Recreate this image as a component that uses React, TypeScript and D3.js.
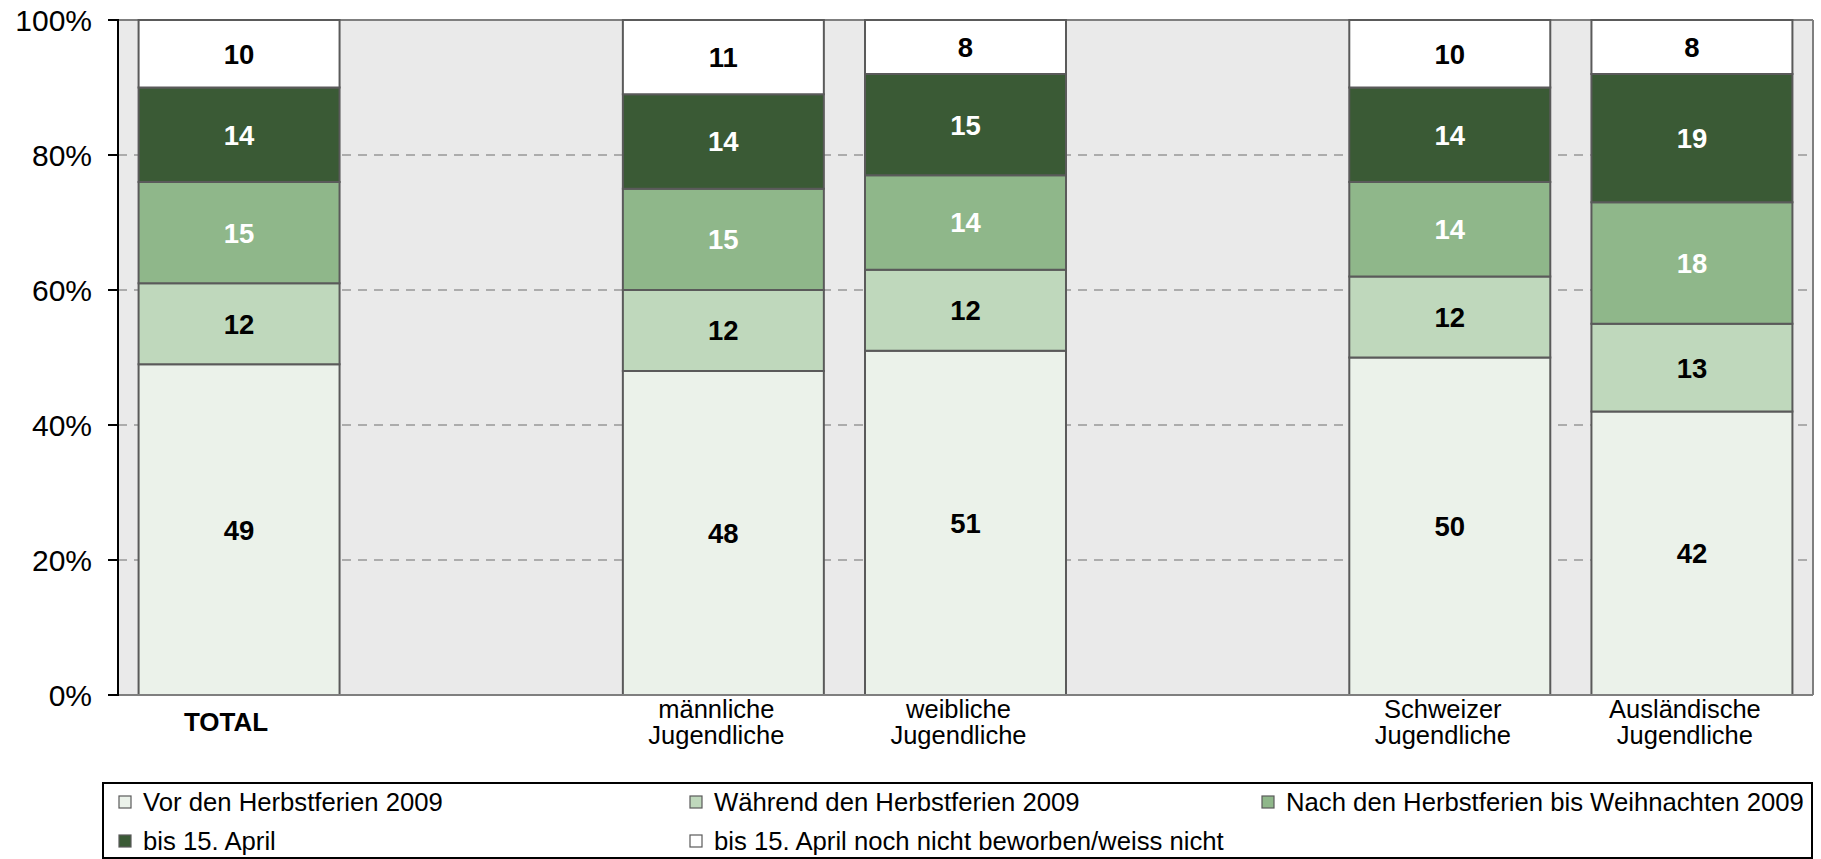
import React from "react";
import * as d3 from "d3";

const categories = ["TOTAL", "gap1", "männliche", "weibliche", "gap2", "Schweizer", "Ausländische"];
const categoryLines: string[][] = [
  ["TOTAL"],
  [],
  ["männliche", "Jugendliche"],
  ["weibliche", "Jugendliche"],
  [],
  ["Schweizer", "Jugendliche"],
  ["Ausländische", "Jugendliche"],
];
const barCategories = ["TOTAL", "männliche", "weibliche", "Schweizer", "Ausländische"];

const seriesNames = [
  "Vor den Herbstferien 2009",
  "Während den Herbstferien 2009",
  "Nach den Herbstferien bis Weihnachten 2009",
  "bis 15. April",
  "bis 15. April noch nicht beworben/weiss nicht",
];
const vorHerbst = [49, 48, 51, 50, 42];
const waehrendHerbst = [12, 12, 12, 12, 13];
const nachHerbst = [15, 15, 14, 14, 18];
const bisApril = [14, 14, 15, 14, 19];
const nochNicht = [10, 11, 8, 10, 8];
const seriesValues = [vorHerbst, waehrendHerbst, nachHerbst, bisApril, nochNicht];

const seriesColors = ["#EBF2EA", "#BFD8BC", "#8FB78A", "#3A5A35", "#FFFFFF"];
const labelColors = ["#000", "#000", "#fff", "#fff", "#000"];

const yTicks = [0, 20, 40, 60, 80, 100];

const FONT = "'Liberation Sans', Arial, sans-serif";

export default function App() {
  const W = 1821, H = 859;
  const plotLeft = 118, plotRight = 1813, plotTop = 20, plotBottom = 695;

  const x = d3.scaleBand<string>().domain(categories).range([plotLeft, plotRight]).paddingInner(0.17).paddingOuter(0.085);
  const y = d3.scaleLinear().domain([0, 100]).range([plotBottom, plotTop]);

  const rows = barCategories.map((c, i) => {
    const r: any = { cat: c };
    seriesNames.forEach((s, k) => (r[s] = seriesValues[k][i]));
    return r;
  });
  const stacked = d3.stack<any>().keys(seriesNames)(rows);

  const legendCols = [119, 690, 1262];
  const legendRows = [802, 841];

  return (
    <svg width={W} height={H} style={{ position: "absolute", left: 0, top: 0, background: "#fff" }} fontFamily={FONT}>
      <rect x={plotLeft} y={plotTop} width={plotRight - plotLeft} height={plotBottom - plotTop} fill="#EAEAEA" />
      <line x1={plotLeft} x2={plotRight} y1={plotTop} y2={plotTop} stroke="#7f7f7f" strokeWidth={2} />
      <line x1={plotRight} x2={plotRight} y1={plotTop} y2={plotBottom} stroke="#7f7f7f" strokeWidth={2} />
      {yTicks.filter((t) => t > 0 && t < 100).map((t) => (
        <line key={t} x1={plotLeft} x2={plotRight} y1={y(t)} y2={y(t)} stroke="#6f6f6f" strokeWidth={1} strokeDasharray="9,7" />
      ))}
      {stacked.map((layer, k) => (
        <g key={k}>
          {layer.map((d, i) => {
            const cx = x(barCategories[i])!;
            return (
              <rect key={i} x={cx} y={y(d[1])} width={x.bandwidth()} height={y(d[0]) - y(d[1])}
                fill={seriesColors[k]} stroke="#5a5a5a" strokeWidth={2} />
            );
          })}
        </g>
      ))}
      {stacked.map((layer, k) => (
        <g key={"l" + k}>
          {layer.map((d, i) => (
            <text key={i} x={x(barCategories[i])! + x.bandwidth() / 2} y={y((d[0] + d[1]) / 2)} dy="0.36em"
              textAnchor="middle" fontWeight="bold" fontSize={27.5} fill={labelColors[k]}>
              {seriesValues[k][i]}
            </text>
          ))}
        </g>
      ))}
      <line x1={plotLeft} x2={plotRight} y1={plotBottom} y2={plotBottom} stroke="#7f7f7f" strokeWidth={2} />
      <line x1={plotLeft} x2={plotLeft} y1={plotTop - 1} y2={plotBottom + 1} stroke="#000" strokeWidth={2} />
      {yTicks.map((t) => (
        <g key={t}>
          <line x1={108} x2={plotLeft} y1={y(t)} y2={y(t)} stroke="#000" strokeWidth={2} />
          <text x={92} y={y(t)} dy="0.36em" textAnchor="end" fontSize={30} fill="#000">{t + "%"}</text>
        </g>
      ))}
      {categories.map((c, i) => {
        const lines = categoryLines[i];
        if (!lines.length) return null;
        const cx = x(c)! + x.bandwidth() / 2 - (lines.length === 1 ? 13 : 7);
        if (lines.length === 1)
          return (
            <text key={c} x={cx} y={722} dy="0.36em" textAnchor="middle" fontSize={26} fontWeight="bold">{lines[0]}</text>
          );
        return (
          <text key={c} textAnchor="middle" fontSize={25.5}>
            {lines.map((l, j) => (
              <tspan key={j} x={cx} y={709 + j * 26} dy="0.36em">{l}</tspan>
            ))}
          </text>
        );
      })}
      <rect x={103} y={783} width={1709} height={75} fill="none" stroke="#000" strokeWidth={2} />
      {seriesNames.map((s, k) => {
        const col = k % 3, row = Math.floor(k / 3);
        const lx = legendCols[col], ly = legendRows[row];
        return (
          <g key={s}>
            <rect x={lx} y={ly - 6} width={12} height={12} fill={seriesColors[k]} stroke="#5a5a5a" strokeWidth={1.2} />
            <text x={lx + 24} y={ly} dy="0.36em" fontSize={25.7} fill="#000">{s}</text>
          </g>
        );
      })}
    </svg>
  );
}
